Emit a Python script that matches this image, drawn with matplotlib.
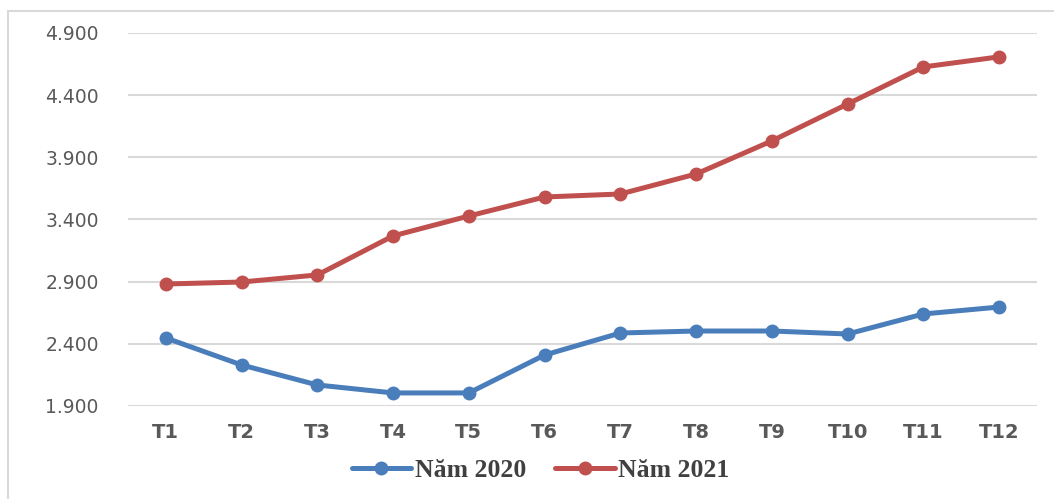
import matplotlib
matplotlib.use("Agg")
import matplotlib.pyplot as plt
from matplotlib.patches import Rectangle
from matplotlib.ticker import FuncFormatter

months = ["T1", "T2", "T3", "T4", "T5", "T6", "T7", "T8", "T9", "T10", "T11", "T12"]
nam_2020 = [2447, 2230, 2069, 2005, 2005, 2310, 2487, 2503, 2503, 2479, 2640, 2696]
nam_2021 = [2881, 2897, 2954, 3268, 3428, 3581, 3605, 3766, 4032, 4329, 4627, 4708]
yticks = [1900, 2400, 2900, 3400, 3900, 4400, 4900]

blue = "#4A7EBB"
red = "#C0504D"

fig = plt.figure(figsize=(10.54, 4.99), dpi=100)
ax = fig.add_axes([0.1214, 0.1864, 0.8625, 0.7475])

x = list(range(len(months)))
ax.plot(x, nam_2020, color=blue, lw=3.6, marker="o", ms=9, label="Năm 2020",
        solid_capstyle="round")
ax.plot(x, nam_2021, color=red, lw=3.6, marker="o", ms=9, label="Năm 2021",
        solid_capstyle="round")

ax.set_xlim(-0.5, len(months) - 0.5)
ax.set_ylim(1900, 4900)
ax.set_yticks(yticks)
ax.yaxis.set_major_formatter(FuncFormatter(lambda v, p: f"{int(v):,}".replace(",", ".")))
ax.set_xticks(x)
ax.set_xticklabels(months, fontweight="bold")

ax.grid(axis="y", color="#D9D9D9", lw=1.5)
ax.set_axisbelow(True)
for s in ax.spines.values():
    s.set_visible(False)
ax.tick_params(axis="y", length=0, pad=21, labelsize=13.5, labelcolor="#595959")
ax.tick_params(axis="x", length=0, pad=12, labelsize=14, labelcolor="#595959")

fig.legend(loc="center", bbox_to_anchor=(0.513, 0.058), ncol=2, frameon=False,
           handlelength=2.3, handletextpad=0.15, columnspacing=1.15,
           prop={"family": "Liberation Serif", "weight": "bold", "size": 18.5},
           labelcolor="#404040")

# outer frame
fig.patches.append(Rectangle((8 / 1054, -0.01), 1.05, 1 - 11 / 499 + 0.01,
                             transform=fig.transFigure, fill=False,
                             edgecolor="#D9D9D9", lw=1.5))

fig.savefig("out.png", dpi=100)
